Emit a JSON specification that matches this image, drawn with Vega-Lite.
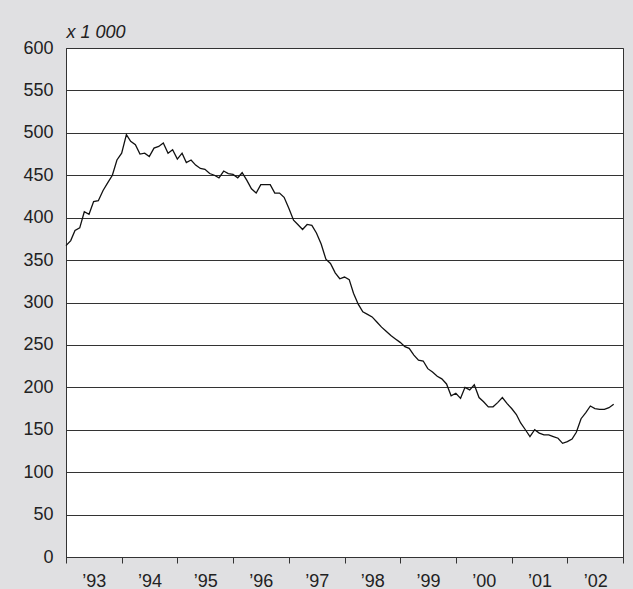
{
  "$schema": "https://vega.github.io/schema/vega-lite/v6.json",
  "width": 557,
  "height": 509,
  "autosize": {"type": "none"},
  "padding": {"left": 66, "top": 48, "right": 10, "bottom": 32},
  "background": "#e0e0e2",
  "config": {
    "view": {"fill": "white", "stroke": "#333333", "strokeWidth": 1},
    "font": "Liberation Sans"
  },
  "data": {
    "values": [
      {"date": "1993-01-01", "v": 367}, {"date": "1993-02-01", "v": 373}, {"date": "1993-03-01", "v": 385}, {"date": "1993-04-01", "v": 388},
      {"date": "1993-05-01", "v": 407}, {"date": "1993-06-01", "v": 404}, {"date": "1993-07-01", "v": 419}, {"date": "1993-08-01", "v": 420},
      {"date": "1993-09-01", "v": 432}, {"date": "1993-10-01", "v": 441}, {"date": "1993-11-01", "v": 450}, {"date": "1993-12-01", "v": 468},
      {"date": "1994-01-01", "v": 476}, {"date": "1994-02-01", "v": 498}, {"date": "1994-03-01", "v": 490}, {"date": "1994-04-01", "v": 486},
      {"date": "1994-05-01", "v": 475}, {"date": "1994-06-01", "v": 476}, {"date": "1994-07-01", "v": 472}, {"date": "1994-08-01", "v": 482},
      {"date": "1994-09-01", "v": 484}, {"date": "1994-10-01", "v": 488}, {"date": "1994-11-01", "v": 476}, {"date": "1994-12-01", "v": 480},
      {"date": "1995-01-01", "v": 469}, {"date": "1995-02-01", "v": 476}, {"date": "1995-03-01", "v": 465}, {"date": "1995-04-01", "v": 468},
      {"date": "1995-05-01", "v": 462}, {"date": "1995-06-01", "v": 458}, {"date": "1995-07-01", "v": 457}, {"date": "1995-08-01", "v": 452},
      {"date": "1995-09-01", "v": 450}, {"date": "1995-10-01", "v": 447}, {"date": "1995-11-01", "v": 455}, {"date": "1995-12-01", "v": 452},
      {"date": "1996-01-01", "v": 451}, {"date": "1996-02-01", "v": 447}, {"date": "1996-03-01", "v": 453}, {"date": "1996-04-01", "v": 444},
      {"date": "1996-05-01", "v": 434}, {"date": "1996-06-01", "v": 429}, {"date": "1996-07-01", "v": 439}, {"date": "1996-08-01", "v": 439},
      {"date": "1996-09-01", "v": 439}, {"date": "1996-10-01", "v": 429}, {"date": "1996-11-01", "v": 429}, {"date": "1996-12-01", "v": 424},
      {"date": "1997-01-01", "v": 411}, {"date": "1997-02-01", "v": 397}, {"date": "1997-03-01", "v": 392}, {"date": "1997-04-01", "v": 386},
      {"date": "1997-05-01", "v": 392}, {"date": "1997-06-01", "v": 391}, {"date": "1997-07-01", "v": 382}, {"date": "1997-08-01", "v": 369},
      {"date": "1997-09-01", "v": 351}, {"date": "1997-10-01", "v": 346}, {"date": "1997-11-01", "v": 335}, {"date": "1997-12-01", "v": 328},
      {"date": "1998-01-01", "v": 330}, {"date": "1998-02-01", "v": 327}, {"date": "1998-03-01", "v": 311}, {"date": "1998-04-01", "v": 298},
      {"date": "1998-05-01", "v": 289}, {"date": "1998-06-01", "v": 286}, {"date": "1998-07-01", "v": 283}, {"date": "1998-08-01", "v": 277},
      {"date": "1998-09-01", "v": 271}, {"date": "1998-10-01", "v": 266}, {"date": "1998-11-01", "v": 261}, {"date": "1998-12-01", "v": 257},
      {"date": "1999-01-01", "v": 253}, {"date": "1999-02-01", "v": 248}, {"date": "1999-03-01", "v": 246}, {"date": "1999-04-01", "v": 238},
      {"date": "1999-05-01", "v": 232}, {"date": "1999-06-01", "v": 231}, {"date": "1999-07-01", "v": 222}, {"date": "1999-08-01", "v": 218},
      {"date": "1999-09-01", "v": 213}, {"date": "1999-10-01", "v": 210}, {"date": "1999-11-01", "v": 204}, {"date": "1999-12-01", "v": 190},
      {"date": "2000-01-01", "v": 193}, {"date": "2000-02-01", "v": 187}, {"date": "2000-03-01", "v": 200}, {"date": "2000-04-01", "v": 197},
      {"date": "2000-05-01", "v": 203}, {"date": "2000-06-01", "v": 188}, {"date": "2000-07-01", "v": 183}, {"date": "2000-08-01", "v": 177},
      {"date": "2000-09-01", "v": 177}, {"date": "2000-10-01", "v": 182}, {"date": "2000-11-01", "v": 188}, {"date": "2000-12-01", "v": 181},
      {"date": "2001-01-01", "v": 175}, {"date": "2001-02-01", "v": 168}, {"date": "2001-03-01", "v": 158}, {"date": "2001-04-01", "v": 150},
      {"date": "2001-05-01", "v": 142}, {"date": "2001-06-01", "v": 150}, {"date": "2001-07-01", "v": 146}, {"date": "2001-08-01", "v": 144},
      {"date": "2001-09-01", "v": 144}, {"date": "2001-10-01", "v": 142}, {"date": "2001-11-01", "v": 140}, {"date": "2001-12-01", "v": 134},
      {"date": "2002-01-01", "v": 136}, {"date": "2002-02-01", "v": 139}, {"date": "2002-03-01", "v": 147}, {"date": "2002-04-01", "v": 163},
      {"date": "2002-05-01", "v": 170}, {"date": "2002-06-01", "v": 178}, {"date": "2002-07-01", "v": 175}, {"date": "2002-08-01", "v": 174},
      {"date": "2002-09-01", "v": 174}, {"date": "2002-10-01", "v": 176}, {"date": "2002-11-01", "v": 180}
    ]
  },
  "mark": {"type": "line", "color": "#111111", "strokeWidth": 1.3},
  "encoding": {
    "x": {
      "field": "date",
      "type": "temporal",
      "scale": {"type": "utc", "domain": [{"year": 1993, "month": 1, "date": 1, "utc": true}, {"year": 2003, "month": 1, "date": 1, "utc": true}]},
      "axis": {
        "title": null,
        "grid": false,
        "tickCount": {"interval": "year", "step": 1},
        "labelExpr": "utcFormat(datum.value, '%Y') == '2003' ? '' : '\u2019' + utcFormat(datum.value, '%y')",
        "labelOffset": 27.85,
        "labelFlush": false,
        "labelOverlap": false,
        "labelFontSize": 18,
        "labelColor": "#222222",
        "labelPadding": 9,
        "tickSize": 6,
        "tickColor": "#333333",
        "domainColor": "#333333"
      }
    },
    "y": {
      "field": "v",
      "type": "quantitative",
      "scale": {"domain": [0, 600], "nice": false},
      "axis": {
        "values": [0, 50, 100, 150, 200, 250, 300, 350, 400, 450, 500, 550, 600],
        "grid": true,
        "gridColor": "#333333",
        "gridOpacity": 1,
        "gridWidth": 1,
        "ticks": false,
        "domainColor": "#333333",
        "labelFontSize": 18,
        "labelColor": "#222222",
        "labelPadding": 13,
        "title": "x 1 000",
        "titleFontStyle": "italic",
        "titleFontWeight": "normal",
        "titleFontSize": 18,
        "titleColor": "#222222",
        "titleAngle": 0,
        "titleAlign": "left",
        "titleBaseline": "middle",
        "titleX": 0,
        "titleY": -16
      }
    }
  }
}
